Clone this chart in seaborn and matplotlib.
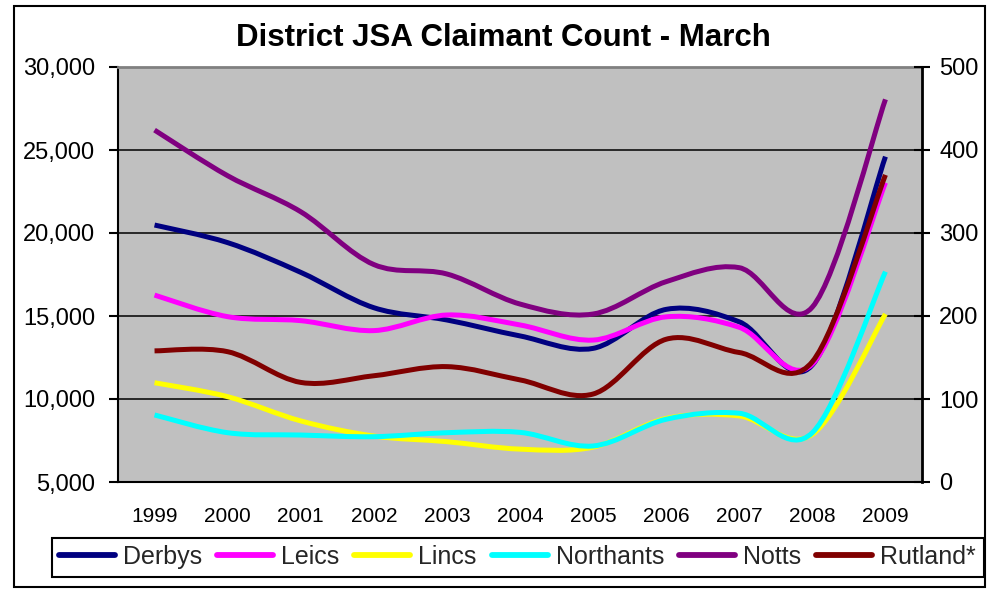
import numpy as np
import pandas as pd
import matplotlib
matplotlib.use("Agg")
import matplotlib.pyplot as plt
import seaborn as sns
from matplotlib.path import Path
from matplotlib.patches import PathPatch, Rectangle
from matplotlib.lines import Line2D
from matplotlib.ticker import FuncFormatter

years = [1999, 2000, 2001, 2002, 2003, 2004, 2005, 2006, 2007, 2008, 2009]
derbys = [20480, 19420, 17630, 15500, 14760, 13800, 13050, 15400, 14650, 12050, 24600]
leics = [16260, 14960, 14720, 14120, 15060, 14460, 13550, 14950, 14320, 12100, 23030]
lincs = [10980, 10140, 8680, 7770, 7430, 6980, 7100, 8830, 8980, 7870, 15120]
northants = [9040, 7970, 7830, 7730, 7970, 7990, 7170, 8780, 9140, 7970, 17670]
notts = [26200, 23450, 21280, 18100, 17530, 15720, 15120, 17070, 17910, 15540, 28050]
# Rutland is plotted against the right-hand axis
rutland = [158, 157, 120, 128, 139, 123, 106, 172, 156, 145, 370]

main_names = ["Derbys", "Leics", "Lincs", "Northants", "Notts"]
colors = {"Derbys": "#000080", "Leics": "#FF00FF", "Lincs": "#FFFF00",
          "Northants": "#00FFFF", "Notts": "#800080", "Rutland*": "#800000"}

main = pd.DataFrame({"pos": list(range(len(years))) * 5,
                     "district": np.repeat(main_names, len(years)),
                     "count": derbys + leics + lincs + northants + notts})
rut = pd.DataFrame({"pos": range(len(years)), "district": "Rutland*", "count": rutland})

sns.set_style("white")
plt.rcParams["font.family"] = ["Liberation Sans", "DejaVu Sans"]

LW = 3.6


def excel_smooth(xy):
    # cubic bezier through the points, the way Excel draws a "smoothed line"
    pts = np.asarray(xy, dtype=float)
    n = len(pts)
    verts, codes = [pts[0]], [Path.MOVETO]
    for i in range(n - 1):
        p0, p1, p2 = pts[max(i - 1, 0)], pts[i], pts[i + 1]
        p3 = pts[min(i + 2, n - 1)]
        verts += [p1 + (p2 - p0) / 6, p2 - (p3 - p1) / 6, p2]
        codes += [Path.CURVE4] * 3
    return Path(verts, codes)


def smooth_lines(ax):
    for line in list(ax.lines):
        patch = PathPatch(excel_smooth(line.get_xydata()), fill=False,
                          edgecolor=line.get_color(), lw=LW,
                          capstyle="butt", joinstyle="round", zorder=2)
        ax.add_patch(patch)
        line.remove()


fig = plt.figure(figsize=(9.96, 5.89), dpi=100)
ax = fig.add_axes([118 / 996, 1 - 482 / 589, 804 / 996, 415 / 589])
ax2 = ax.twinx()
ax2.set_position(ax.get_position())

sns.lineplot(data=main, x="pos", y="count", hue="district", hue_order=main_names,
             palette=colors, ax=ax, legend=False)
sns.lineplot(data=rut, x="pos", y="count", hue="district", palette=colors,
             ax=ax2, legend=False)
smooth_lines(ax)
smooth_lines(ax2)

ax.set_facecolor("#C0C0C0")
ax.set_xlim(-0.5, len(years) - 0.5)
ax.set_ylim(5000, 30000)
ax2.set_ylim(0, 500)
ax.set_yticks(range(5000, 30001, 5000))
ax.yaxis.set_major_formatter(FuncFormatter(lambda v, p: f"{v:,.0f}"))
ax2.set_yticks(range(0, 501, 100))
ax.set_xlabel("")
ax.set_ylabel("")
ax2.set_ylabel("")

# category boundaries get tick marks, labels sit in the middle
ax.set_xticks(np.arange(-0.5, len(years), 1))
ax.set_xticklabels([])
ax.set_xticks(range(len(years)), minor=True)
ax.set_xticklabels([str(y) for y in years], minor=True)
ax.tick_params(axis="x", which="major", direction="out", length=7, width=1.5, color="black")
ax.tick_params(axis="x", which="minor", length=0, pad=18, labelsize=15, labelcolor="black")
ax.tick_params(axis="y", direction="out", length=6.5, width=1.5, color="black",
               pad=10, labelsize=17, labelcolor="black")
ax2.tick_params(axis="y", direction="inout", length=11, width=1.5, color="black",
                pad=7, labelsize=17, labelcolor="black")

ax.set_axisbelow(True)
ax.yaxis.grid(True, color="black", lw=1.1)
ax.xaxis.grid(False)

for s in ["left", "bottom"]:
    ax.spines[s].set_color("black")
    ax.spines[s].set_linewidth(1.5)
ax.spines["top"].set_color("#808080")
ax.spines["top"].set_linewidth(2)
ax.spines["right"].set_visible(False)
for s in ["left", "bottom", "top"]:
    ax2.spines[s].set_visible(False)
ax2.spines["right"].set_color("black")
ax2.spines["right"].set_linewidth(2)

fig.text(503.5 / 996, 1 - 38 / 589, "District JSA Claimant Count - March",
         ha="center", va="center", fontsize=22.5, fontweight="bold", color="black")

handles = [Line2D([], [], color=colors[n], lw=LW + 0.6) for n in main_names + ["Rutland*"]]
leg = fig.legend(handles, main_names + ["Rutland*"], loc="center", ncol=6,
                 bbox_to_anchor=(517.5 / 996, 1 - 557 / 589), fontsize=18,
                 handlelength=2.24, handletextpad=0.32, columnspacing=0.6,
                 borderpad=0.3, fancybox=False, shadow=False, framealpha=1)
leg.get_frame().set_edgecolor("black")
leg.get_frame().set_linewidth(1.5)

fig.patches.append(Rectangle((14 / 996, 1 - 587 / 589), 971 / 996, 581 / 589,
                             transform=fig.transFigure, fill=False,
                             edgecolor="black", lw=1.5))

fig.savefig("out.png", dpi=100)
